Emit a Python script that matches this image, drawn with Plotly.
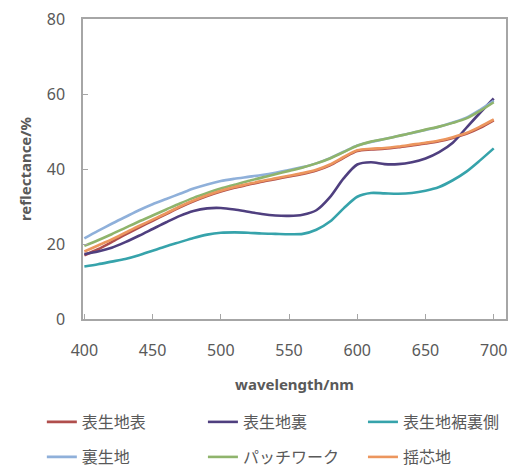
import plotly.graph_objects as go

# wavelength grid (nm)
wavelength = list(range(400, 701, 10))

# reflectance (%) for each fabric part
omote_omote = [17.0, 18.6, 20.5, 22.5, 24.4, 26.2, 28.0, 29.8, 31.4, 32.8, 34.0, 35.0, 35.8, 36.6, 37.3, 38.0,
               38.7, 39.6, 41.0, 43.0, 44.8, 45.2, 45.4, 45.8, 46.3, 46.8, 47.4, 48.3, 49.4, 51.0, 53.0]
omote_ura = [17.3, 18.0, 19.0, 20.5, 22.2, 24.0, 25.8, 27.5, 28.8, 29.5, 29.6, 29.2, 28.6, 28.0, 27.6, 27.5,
             27.8, 29.0, 32.5, 37.5, 41.2, 41.8, 41.3, 41.3, 41.8, 42.8, 44.5, 47.0, 51.0, 55.0, 58.8]
susoura = [14.0, 14.6, 15.3, 16.0, 17.0, 18.2, 19.4, 20.5, 21.6, 22.5, 23.0, 23.1, 23.0, 22.8, 22.7, 22.6,
           22.7, 23.8, 26.0, 29.5, 32.6, 33.6, 33.5, 33.4, 33.6, 34.2, 35.2, 37.0, 39.3, 42.3, 45.5]
ura_kiji = [21.5, 23.5, 25.4, 27.2, 29.0, 30.6, 32.0, 33.4, 34.8, 35.9, 36.8, 37.4, 37.9, 38.4, 39.0, 39.7,
            40.5, 41.5, 42.9, 44.6, 46.3, 47.2, 48.0, 48.8, 49.6, 50.4, 51.3, 52.4, 53.7, 55.8, 58.2]
patchwork = [19.5, 21.0, 22.6, 24.3, 26.0, 27.6, 29.2, 30.8, 32.3, 33.6, 34.8, 35.8, 36.8, 37.7, 38.6, 39.5,
             40.4, 41.5, 42.8, 44.5, 46.2, 47.3, 48.0, 48.8, 49.6, 50.5, 51.3, 52.3, 53.5, 55.5, 57.8]
shinji = [18.0, 19.6, 21.2, 23.0, 24.8, 26.5, 28.2, 30.0, 31.6, 33.0, 34.2, 35.2, 36.0, 36.8, 37.5, 38.2,
          38.9, 39.8, 41.2, 43.2, 45.0, 45.4, 45.6, 46.0, 46.5, 47.0, 47.6, 48.5, 49.6, 51.3, 53.2]

series_names = ["表生地表", "表生地裏", "表生地裾裏側", "裏生地", "パッチワーク", "揺芯地"]
series_values = [omote_omote, omote_ura, susoura, ura_kiji, patchwork, shinji]
series_colors = ["#b04e4c", "#4f3f7f", "#36a3ab", "#8fb0da", "#8fb46c", "#ec965e"]

x_ticks = [400, 450, 500, 550, 600, 650, 700]
y_ticks = [0, 20, 40, 60, 80]

FONT = "Noto Sans, Noto Sans CJK JP, sans-serif"
GREY = "#595959"
FRAME = "#a6a6a6"

# legend grid: three columns, two rows (container fractions)
legend_cols = [0.080, 0.388, 0.694]
legend_rows = [0.0964, 0.0214]

fig = go.Figure()
legend_layouts = {}
for i, (name, vals, col) in enumerate(zip(series_names, series_values, series_colors)):
    key = "legend" if i == 0 else f"legend{i + 1}"
    fig.add_trace(go.Scatter(
        x=wavelength, y=vals, name=name, mode="lines",
        line=dict(color=col, width=2.6, shape="spline", smoothing=0.8),
        legend=key,
    ))
    legend_layouts[key] = dict(
        x=legend_cols[i % 3], y=legend_rows[i // 3],
        xref="container", yref="container",
        xanchor="left", yanchor="middle",
        itemwidth=30, bgcolor="rgba(0,0,0,0)",
        font=dict(size=16, color=GREY, family=FONT),
    )

fig.update_layout(
    width=523, height=467,
    margin=dict(l=83, r=17, t=19, b=148, autoexpand=False),
    paper_bgcolor="white", plot_bgcolor="white",
    font=dict(family=FONT, color=GREY, size=15),
    showlegend=True,
    xaxis=dict(
        range=[399, 709], tickvals=x_ticks, ticktext=[str(t) for t in x_ticks],
        showgrid=False, zeroline=False,
        showline=True, linecolor=FRAME, linewidth=1.5, mirror=True,
        ticks="inside", ticklen=5, tickcolor=FRAME, tickwidth=1,
        ticklabelstandoff=16,
        tickfont=dict(size=16, color=GREY),
        title=dict(text="<b>wavelength/nm</b>", font=dict(size=15, color=GREY), standoff=20),
    ),
    yaxis=dict(
        range=[0, 80], tickvals=y_ticks, ticktext=[str(t) for t in y_ticks],
        showgrid=False, zeroline=False,
        showline=True, linecolor=FRAME, linewidth=1.5, mirror=True,
        ticks="inside", ticklen=5, tickcolor=FRAME, tickwidth=1,
        ticklabelstandoff=13,
        tickfont=dict(size=16, color=GREY),
    ),
    annotations=[dict(
        text="<b>reflectance/%</b>", textangle=-90,
        xref="paper", yref="paper", x=-0.137, y=0.5,
        xanchor="center", yanchor="middle", showarrow=False,
        font=dict(size=15, color=GREY, family=FONT),
    )],
    **legend_layouts,
)

fig.write_html("out.html")
